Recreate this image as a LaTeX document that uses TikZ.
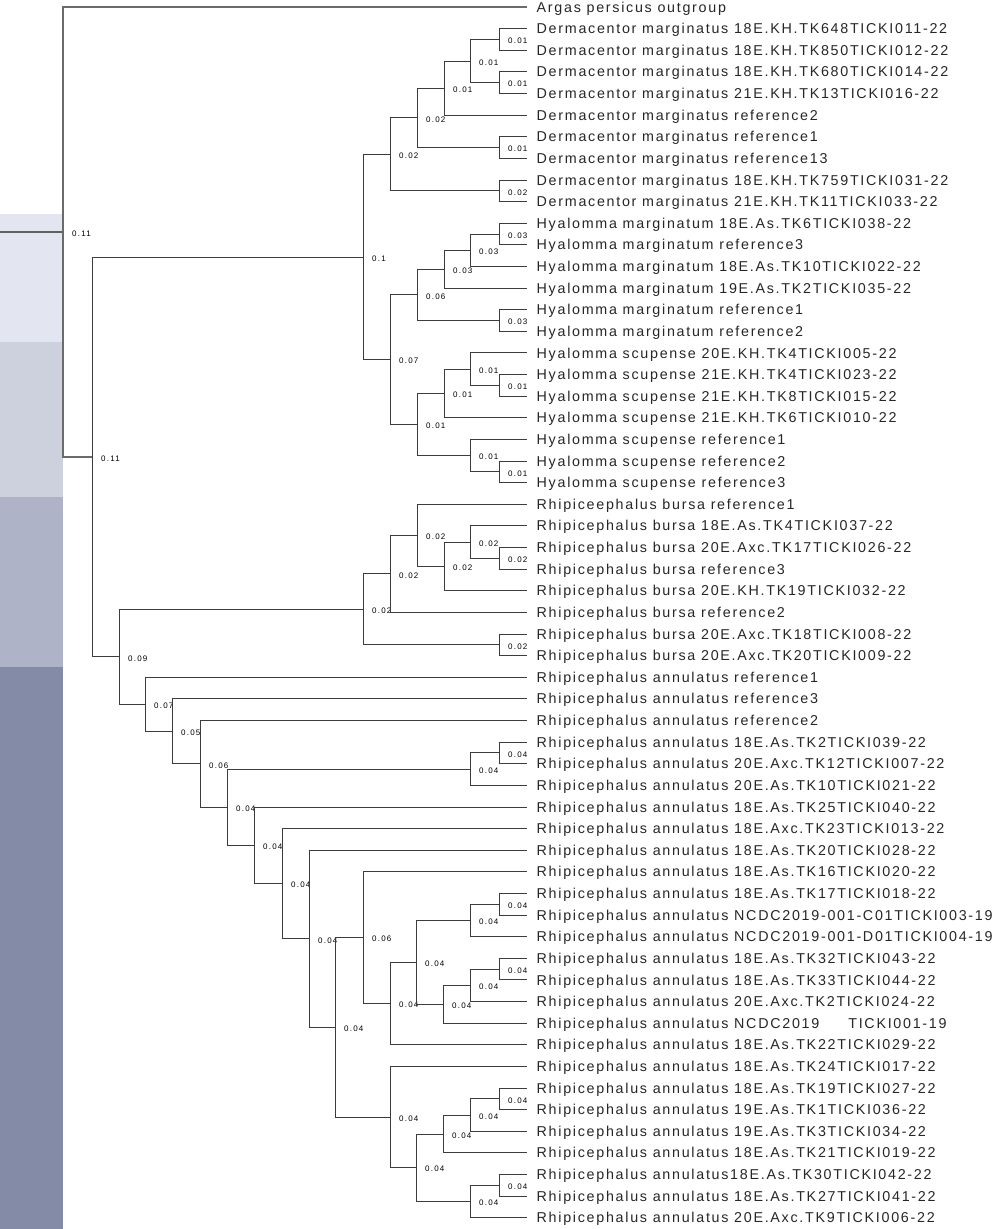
\documentclass[tikz,border=0pt]{standalone}
\usepackage{fontspec}
\setmainfont{Liberation Sans}
\newfontfamily\leaffont[LetterSpace=12]{Liberation Sans}
\newfontfamily\blfont[LetterSpace=15]{Liberation Sans}
\definecolor{bandA}{RGB}{227,229,240}
\definecolor{bandB}{RGB}{205,208,221}
\definecolor{bandC}{RGB}{174,179,199}
\definecolor{bandD}{RGB}{131,139,166}
\definecolor{brcol}{RGB}{60,60,60}
\newcommand\tleaf[3]{\node[leaf] (#1) at (527,{yy(#2)}) {#3};}
\newcommand\tnode[4]{\coordinate (#1) at (#2,{yy(#3)}); \node[blen] (#1t) at ([shift={(9pt,-1.5pt)}]#1) {#4};}
\begin{document}
\begin{tikzpicture}[x=1pt,y=-1pt,
  declare function={yy(\i)=7+(\i-1)*21.62;},
  br/.style={draw=brcol, line width=0.9pt},
  rootbr/.style={draw=black!58, line width=1.5pt},
  leaf/.style={anchor=west, inner xsep=9.5pt, inner ysep=0pt, text height=10.2pt, text depth=0pt,
    font=\leaffont\fontsize{14.3}{15}\selectfont, text=black!85},
  blen/.style={anchor=west, inner sep=0pt, font=\blfont\fontsize{8}{8}\selectfont, text=black}]
\useasboundingbox (0,0) rectangle (1000,1229);
% side bands
\fill[bandA] (0,214) rectangle (63,342);
\fill[bandB] (0,342) rectangle (63,497);
\fill[bandC] (0,497) rectangle (63,667);
\fill[bandD] (0,667) rectangle (63,1229);
% leaves
\tleaf{l1}{1}{Argas persicus outgroup}
\tleaf{l2}{2}{Dermacentor marginatus 18E.KH.TK648TICKI011-22}
\tleaf{l3}{3}{Dermacentor marginatus 18E.KH.TK850TICKI012-22}
\tleaf{l4}{4}{Dermacentor marginatus 18E.KH.TK680TICKI014-22}
\tleaf{l5}{5}{Dermacentor marginatus 21E.KH.TK13TICKI016-22}
\tleaf{l6}{6}{Dermacentor marginatus reference2}
\tleaf{l7}{7}{Dermacentor marginatus reference1}
\tleaf{l8}{8}{Dermacentor marginatus reference13}
\tleaf{l9}{9}{Dermacentor marginatus 18E.KH.TK759TICKI031-22}
\tleaf{l10}{10}{Dermacentor marginatus 21E.KH.TK11TICKI033-22}
\tleaf{l11}{11}{Hyalomma marginatum 18E.As.TK6TICKI038-22}
\tleaf{l12}{12}{Hyalomma marginatum reference3}
\tleaf{l13}{13}{Hyalomma marginatum 18E.As.TK10TICKI022-22}
\tleaf{l14}{14}{Hyalomma marginatum 19E.As.TK2TICKI035-22}
\tleaf{l15}{15}{Hyalomma marginatum reference1}
\tleaf{l16}{16}{Hyalomma marginatum reference2}
\tleaf{l17}{17}{Hyalomma scupense 20E.KH.TK4TICKI005-22}
\tleaf{l18}{18}{Hyalomma scupense 21E.KH.TK4TICKI023-22}
\tleaf{l19}{19}{Hyalomma scupense 21E.KH.TK8TICKI015-22}
\tleaf{l20}{20}{Hyalomma scupense 21E.KH.TK6TICKI010-22}
\tleaf{l21}{21}{Hyalomma scupense reference1}
\tleaf{l22}{22}{Hyalomma scupense reference2}
\tleaf{l23}{23}{Hyalomma scupense reference3}
\tleaf{l24}{24}{Rhipiceephalus bursa reference1}
\tleaf{l25}{25}{Rhipicephalus bursa 18E.As.TK4TICKI037-22}
\tleaf{l26}{26}{Rhipicephalus bursa 20E.Axc.TK17TICKI026-22}
\tleaf{l27}{27}{Rhipicephalus bursa reference3}
\tleaf{l28}{28}{Rhipicephalus bursa 20E.KH.TK19TICKI032-22}
\tleaf{l29}{29}{Rhipicephalus bursa reference2}
\tleaf{l30}{30}{Rhipicephalus bursa 20E.Axc.TK18TICKI008-22}
\tleaf{l31}{31}{Rhipicephalus bursa 20E.Axc.TK20TICKI009-22}
\tleaf{l32}{32}{Rhipicephalus annulatus reference1}
\tleaf{l33}{33}{Rhipicephalus annulatus reference3}
\tleaf{l34}{34}{Rhipicephalus annulatus reference2}
\tleaf{l35}{35}{Rhipicephalus annulatus 18E.As.TK2TICKI039-22}
\tleaf{l36}{36}{Rhipicephalus annulatus 20E.Axc.TK12TICKI007-22}
\tleaf{l37}{37}{Rhipicephalus annulatus 20E.As.TK10TICKI021-22}
\tleaf{l38}{38}{Rhipicephalus annulatus 18E.As.TK25TICKI040-22}
\tleaf{l39}{39}{Rhipicephalus annulatus 18E.Axc.TK23TICKI013-22}
\tleaf{l40}{40}{Rhipicephalus annulatus 18E.As.TK20TICKI028-22}
\tleaf{l41}{41}{Rhipicephalus annulatus 18E.As.TK16TICKI020-22}
\tleaf{l42}{42}{Rhipicephalus annulatus 18E.As.TK17TICKI018-22}
\tleaf{l43}{43}{Rhipicephalus annulatus NCDC2019-001-C01TICKI003-19}
\tleaf{l44}{44}{Rhipicephalus annulatus NCDC2019-001-D01TICKI004-19}
\tleaf{l45}{45}{Rhipicephalus annulatus 18E.As.TK32TICKI043-22}
\tleaf{l46}{46}{Rhipicephalus annulatus 18E.As.TK33TICKI044-22}
\tleaf{l47}{47}{Rhipicephalus annulatus 20E.Axc.TK2TICKI024-22}
\tleaf{l48}{48}{Rhipicephalus annulatus NCDC2019\hspace{29pt}TICKI001-19}
\tleaf{l49}{49}{Rhipicephalus annulatus 18E.As.TK22TICKI029-22}
\tleaf{l50}{50}{Rhipicephalus annulatus 18E.As.TK24TICKI017-22}
\tleaf{l51}{51}{Rhipicephalus annulatus 18E.As.TK19TICKI027-22}
\tleaf{l52}{52}{Rhipicephalus annulatus 19E.As.TK1TICKI036-22}
\tleaf{l53}{53}{Rhipicephalus annulatus 19E.As.TK3TICKI034-22}
\tleaf{l54}{54}{Rhipicephalus annulatus 18E.As.TK21TICKI019-22}
\tleaf{l55}{55}{Rhipicephalus annulatus18E.As.TK30TICKI042-22}
\tleaf{l56}{56}{Rhipicephalus annulatus 18E.As.TK27TICKI041-22}
\tleaf{l57}{57}{Rhipicephalus annulatus 20E.Axc.TK9TICKI006-22}
% internal nodes: name, x, leaf index, branch label
\tnode{root}{63}{11.4045}{0.11}
\tnode{g}{92}{21.809}{0.11}
\tnode{h8}{363}{12.5625}{0.1}
\tnode{d8}{390}{7.8125}{0.02}
\tnode{d6}{417}{6.125}{0.02}
\tnode{d4}{444}{4.75}{0.01}
\tnode{d3}{470}{3.5}{0.01}
\tnode{d1}{499}{2.5}{0.01}
\tnode{d2}{499}{4.5}{0.01}
\tnode{d5}{499}{7.5}{0.01}
\tnode{d7}{499}{9.5}{0.02}
\tnode{h7}{390}{17.3125}{0.07}
\tnode{m5}{417}{14.3125}{0.06}
\tnode{m3}{444}{13.125}{0.03}
\tnode{m2}{470}{12.25}{0.03}
\tnode{m1}{499}{11.5}{0.03}
\tnode{m4}{499}{15.5}{0.03}
\tnode{s6}{417}{20.3125}{0.01}
\tnode{s3}{444}{18.875}{0.01}
\tnode{s2}{470}{17.75}{0.01}
\tnode{s1}{499}{18.5}{0.01}
\tnode{s5}{470}{21.75}{0.01}
\tnode{s4}{499}{22.5}{0.01}
\tnode{c17}{119}{31.0553}{0.09}
\tnode{b7}{363}{28.859}{0.02}
\tnode{b5}{390}{27.21875}{0.02}
\tnode{b4}{417}{25.4375}{0.02}
\tnode{b3}{444}{26.875}{0.02}
\tnode{b2}{470}{25.75}{0.02}
\tnode{b1}{499}{26.5}{0.02}
\tnode{b6}{499}{30.5}{0.02}
\tnode{c16}{145}{33.2515}{0.07}
\tnode{c15}{172}{34.503}{0.05}
\tnode{c14}{200}{36.0061}{0.06}
\tnode{c13}{227}{38.0122}{0.04}
\tnode{a2}{470}{36.25}{0.04}
\tnode{a1}{499}{35.5}{0.04}
\tnode{c12}{254}{39.7744}{0.04}
\tnode{c11}{282}{41.5488}{0.04}
\tnode{c10}{309}{44.0977}{0.04}
\tnode{c9}{335}{48.1953}{0.04}
\tnode{c8}{363}{44.046875}{0.06}
\tnode{c7}{390}{47.09375}{0.04}
\tnode{c6}{416}{45.1875}{0.04}
\tnode{c2}{470}{43.25}{0.04}
\tnode{c1}{499}{42.5}{0.04}
\tnode{c5}{443}{47.125}{0.04}
\tnode{c4}{470}{46.25}{0.04}
\tnode{c3}{499}{45.5}{0.04}
\tnode{e7}{390}{52.34375}{0.04}
\tnode{e6}{416}{54.6875}{0.04}
\tnode{e3}{443}{53.125}{0.04}
\tnode{e2}{470}{52.25}{0.04}
\tnode{e1}{499}{51.5}{0.04}
\tnode{e5}{470}{56.25}{0.04}
\tnode{e4}{499}{55.5}{0.04}
% stem into the root
\coordinate (stem) at (0,{yy(11.4045)});
\draw[draw=black!62, line width=1.5pt] (stem) -- (root);
% root branches
\draw[rootbr] (root) |- (l1.west);
\draw[rootbr] (root) |- (g);
% all other branches
\foreach \p/\c in {g/h8, g/c17,
  h8/d8, h8/h7, d8/d6, d8/d7, d6/d4, d6/d5, d4/d3, d4/l6.west, d3/d1, d3/d2,
  d1/l2.west, d1/l3.west, d2/l4.west, d2/l5.west, d5/l7.west, d5/l8.west, d7/l9.west, d7/l10.west,
  h7/m5, h7/s6, m5/m3, m5/m4, m3/m2, m3/l14.west, m2/m1, m2/l13.west, m1/l11.west, m1/l12.west,
  m4/l15.west, m4/l16.west,
  s6/s3, s6/s5, s3/s2, s3/l20.west, s2/l17.west, s2/s1, s1/l18.west, s1/l19.west,
  s5/l21.west, s5/s4, s4/l22.west, s4/l23.west,
  c17/b7, c17/c16, b7/b5, b7/b6, b5/b4, b5/l29.west, b4/l24.west, b4/b3, b3/b2, b3/l28.west,
  b2/l25.west, b2/b1, b1/l26.west, b1/l27.west, b6/l30.west, b6/l31.west,
  c16/l32.west, c16/c15, c15/l33.west, c15/c14, c14/l34.west, c14/c13,
  c13/a2, c13/c12, a2/a1, a2/l37.west, a1/l35.west, a1/l36.west,
  c12/l38.west, c12/c11, c11/l39.west, c11/c10, c10/l40.west, c10/c9,
  c9/c8, c9/e7, c8/l41.west, c8/c7, c7/c6, c7/l49.west, c6/c2, c6/c5,
  c2/c1, c2/l44.west, c1/l42.west, c1/l43.west, c5/c4, c5/l48.west, c4/c3, c4/l47.west,
  c3/l45.west, c3/l46.west,
  e7/l50.west, e7/e6, e6/e3, e6/e5, e3/e2, e3/l54.west, e2/e1, e2/l53.west,
  e1/l51.west, e1/l52.west, e5/e4, e5/l57.west, e4/l55.west, e4/l56.west}
  \draw[br] (\p) |- (\c);
\end{tikzpicture}
\end{document}
